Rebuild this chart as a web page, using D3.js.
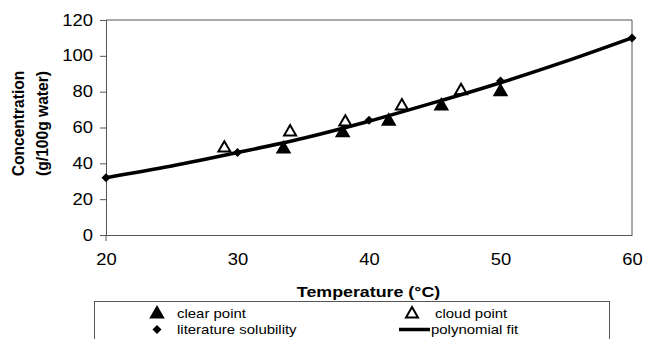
<!DOCTYPE html>
<html>
<head>
<meta charset="utf-8">
<script src="https://cdn.jsdelivr.net/npm/d3@7"></script>
<style>
	body { margin: 0; background: #fff; }
	svg { display: block; font-family: 'Liberation Sans', Arial, sans-serif; }
</style>
</head>
<body>
<script>
// clear point (filled triangles)
const clearT = [33.5, 38, 41.5, 45.5, 50];
const clearC = [48, 57, 63.5, 72, 80];
// cloud point (open triangles)
const cloudT = [29, 34, 38.2, 42.5, 47];
const cloudC = [48.5, 57.5, 63, 72, 80.5];
// literature solubility (diamonds)
const litT = [20, 30, 40, 50, 60];
const litC = [32, 46, 64, 86, 110];
// polynomial fit
const fitT = [20, 25, 30, 35, 40, 45, 50, 55, 60];
const fitC = [32, 38.5, 46, 54, 63.5, 74, 85, 97, 110];

const xTicks = [20, 30, 40, 50, 60];
const yTicks = [0, 20, 40, 60, 80, 100, 120];

const width = 645, height = 339;
const plot = { left: 106, right: 632, top: 20, bottom: 235 };
const stretch = 1.15; // the source text is a bit wider than it is tall

const svg = d3.select('body')
	.append('svg')
	.attr('width', width)
	.attr('height', height);

const xScale = d3.scaleLinear().domain([20, 60]).range([plot.left, plot.right]);
const yScale = d3.scaleLinear().domain([0, 120]).range([plot.bottom, plot.top]);

// plot frame (top and right)
svg.append('path')
	.attr('d', `M${plot.left},${plot.top}H${plot.right}V${plot.bottom}`)
	.attr('fill', 'none')
	.attr('stroke', '#555')
	.attr('stroke-width', 1);

const yAxis = d3.axisLeft(yScale).tickValues(yTicks).tickSize(6).tickPadding(5.3);
const yG = svg.append('g')
	.attr('transform', `translate(${plot.left},0)`)
	.call(yAxis);
yG.select('.domain').attr('stroke', '#555');
yG.selectAll('.tick line').attr('stroke', '#555');
yG.selectAll('.tick text')
	.style('font-size', '16px')
	.attr('fill', '#000')
	.attr('transform', `scale(${stretch},1)`);

const xAxis = d3.axisBottom(xScale).tickValues(xTicks).tickSize(0).tickPadding(19);
const xG = svg.append('g')
	.attr('transform', `translate(0,${plot.bottom})`)
	.call(xAxis);
xG.select('.domain').attr('stroke', '#555');
xG.selectAll('.tick text')
	.style('font-size', '16px')
	.attr('fill', '#000')
	.attr('transform', `scale(${stretch},1)`);
// small tick below origin
svg.append('line')
	.attr('x1', plot.left).attr('x2', plot.left)
	.attr('y1', plot.bottom).attr('y2', plot.bottom + 6)
	.attr('stroke', '#555');

// axis titles
svg.append('text')
	.attr('transform', `translate(24,${(plot.top + plot.bottom) / 2 - 4}) rotate(-90)`)
	.attr('text-anchor', 'middle')
	.style('font-size', '15.6px')
	.style('font-weight', 'bold')
	.text('Concentration');
svg.append('text')
	.attr('transform', `translate(48,${(plot.top + plot.bottom) / 2 - 4}) rotate(-90)`)
	.attr('text-anchor', 'middle')
	.style('font-size', '15.6px')
	.style('font-weight', 'bold')
	.text('(g/100g water)');
svg.append('text')
	.attr('transform', `translate(368.5,297) scale(${stretch},1)`)
	.attr('text-anchor', 'middle')
	.style('font-size', '15.5px')
	.style('font-weight', 'bold')
	.text('Temperature (°C)');

const triFilled = d3.symbol().type(d3.symbolTriangle).size(105);
const triOpen = d3.symbol().type(d3.symbolTriangle).size(62);
const diamond = d3.symbol().type(d3.symbolSquare).size(40);

// clear point
svg.append('g')
	.selectAll('path')
	.data(clearT.map((t, i) => [t, clearC[i]]))
	.enter()
	.append('path')
	.attr('d', triFilled)
	.attr('transform', (d) => `translate(${xScale(d[0])},${yScale(d[1])})`)
	.attr('fill', '#000');

// cloud point
svg.append('g')
	.selectAll('path')
	.data(cloudT.map((t, i) => [t, cloudC[i]]))
	.enter()
	.append('path')
	.attr('d', triOpen)
	.attr('transform', (d) => `translate(${xScale(d[0])},${yScale(d[1])})`)
	.attr('fill', '#fff')
	.attr('stroke', '#000')
	.attr('stroke-width', 2);

// polynomial fit
const line = d3.line()
	.x((d) => xScale(d[0]))
	.y((d) => yScale(d[1]))
	.curve(d3.curveMonotoneX);
svg.append('path')
	.datum(fitT.map((t, i) => [t, fitC[i]]))
	.attr('d', line)
	.attr('fill', 'none')
	.attr('stroke', '#000')
	.attr('stroke-width', 3.5);

// literature solubility
svg.append('g')
	.selectAll('path')
	.data(litT.map((t, i) => [t, litC[i]]))
	.enter()
	.append('path')
	.attr('d', diamond)
	.attr('transform', (d) => `translate(${xScale(d[0])},${yScale(d[1])}) rotate(45)`)
	.attr('fill', '#000');

// legend
const legend = svg.append('g');
legend.append('rect')
	.attr('x', 94.5).attr('y', 301.5)
	.attr('width', 515).attr('height', 60)
	.attr('fill', '#fff')
	.attr('stroke', '#555');

const row1 = 313, row2 = 329.5;
legend.append('path').attr('d', triFilled)
	.attr('transform', `translate(157,${row1 + 1})`).attr('fill', '#000');
legend.append('path').attr('d', triOpen)
	.attr('transform', `translate(412,${row1 + 1})`)
	.attr('fill', '#fff').attr('stroke', '#000').attr('stroke-width', 2);
legend.append('path').attr('d', diamond)
	.attr('transform', `translate(157,${row2}) rotate(45)`).attr('fill', '#000');
legend.append('line')
	.attr('x1', 399).attr('x2', 430)
	.attr('y1', row2).attr('y2', row2)
	.attr('stroke', '#000').attr('stroke-width', 3.5);

const legendItems = [
	{ label: 'clear point', x: 177, y: row1 },
	{ label: 'cloud point', x: 435, y: row1 },
	{ label: 'literature solubility', x: 177, y: row2 },
	{ label: 'polynomial fit', x: 431, y: row2 }
];
legend.selectAll('text.lbl')
	.data(legendItems)
	.enter()
	.append('text')
	.attr('class', 'lbl')
	.attr('transform', (d) => `translate(${d.x},${d.y}) scale(${stretch},1)`)
	.attr('dy', '0.35em')
	.style('font-size', '13px')
	.text((d) => d.label);
</script>
</body>
</html>
